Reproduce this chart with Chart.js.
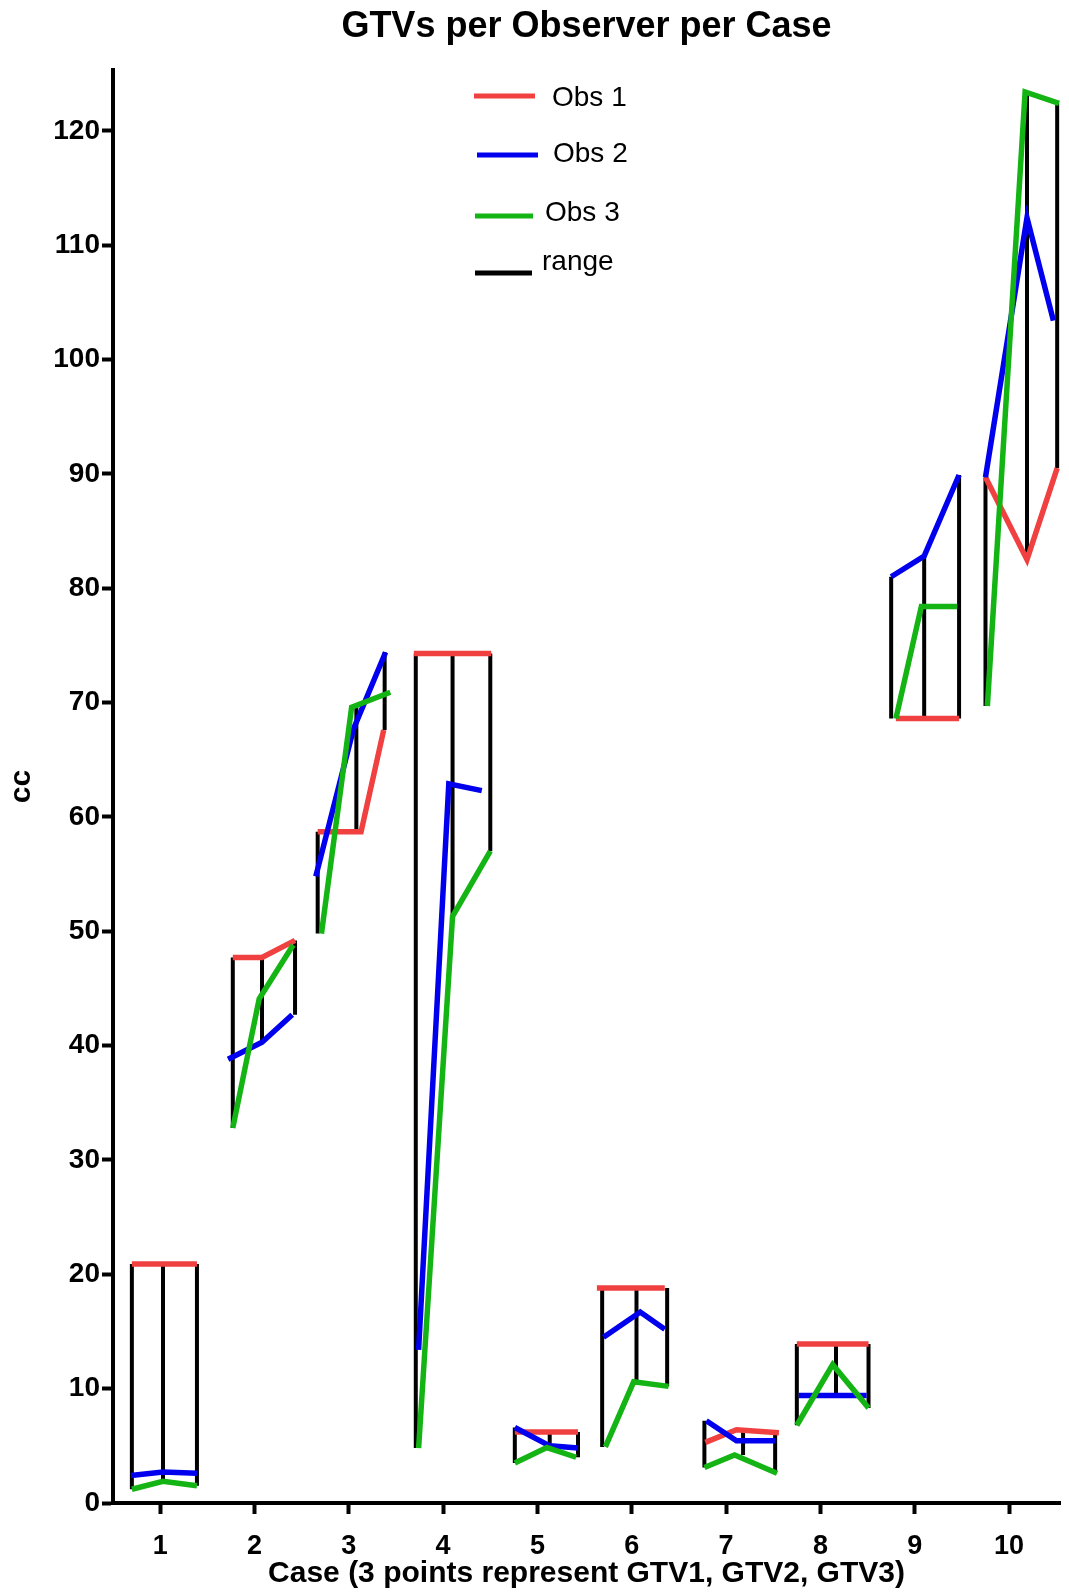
<!DOCTYPE html>
<html>
<head>
<meta charset="utf-8">
<title>GTVs per Observer per Case</title>
<script src="https://cdn.jsdelivr.net/npm/chart.js"></script>
<style>
  html, body { margin: 0; padding: 0; background: #fff; }
  canvas { display: block; }
</style>
</head>
<body>
<canvas id="chart" width="1069" height="1596"></canvas>
<script>
// cases on the x axis and their tick labels
const CASES = [1, 2, 3, 4, 5, 6, 7, 8, 9, 10];
const CASE_LABELS = ["1", "2", "3", "4", "5", "6", "7", "8", "9", "10"];
const Y_TICKS = [0, 10, 20, 30, 40, 50, 60, 70, 80, 90, 100, 110, 120];

// x of GTV1, GTV2, GTV3 inside each case (where the range lines stand)
const RANGE_X = [
    [0.70, 1.03, 1.39],
    [1.77, 2.08, 2.43],
    [2.67, 3.08, 3.38],
    [3.71, 4.10, 4.50],
    [4.76, 5.13, 5.43],
    [5.686, 6.05, 6.375],
    [6.77, 7.18, 7.52],
    [7.75, 8.165, 8.51],
    [8.75, 9.10, 9.47],
    [9.75, 10.19, 10.51],
];

// Obs 1 - volumes (cc), [GTV1, GTV2, GTV3] per case
const OBS1_X = [
    [0.70, 1.03, 1.39],
    [1.77, 2.08, 2.43],
    [2.67, 3.13, 3.37],
    [3.69, 4.10, 4.51],
    [4.76, 5.13, 5.43],
    [5.63, 6.05, 6.35],
    [6.78, 7.11, 7.56],
    [7.75, 8.165, 8.51],
    [8.80, 9.10, 9.47],
    [9.75, 10.19, 10.51],
];
const OBS1 = [
    [20.9, 20.9, 20.9],
    [47.7, 47.7, 49.2],
    [58.7, 58.7, 67.6],
    [74.3, 74.3, 74.3],
    [6.2, 6.2, 6.2],
    [18.8, 18.8, 18.8],
    [5.3, 6.4, 6.15],
    [13.9, 13.9, 13.9],
    [68.6, 68.6, 68.6],
    [89.7, 82.5, 90.5],
];

// Obs 2
const OBS2_X = [
    [0.69, 1.03, 1.39],
    [1.72, 2.08, 2.40],
    [2.65, 3.05, 3.39],
    [3.74, 4.06, 4.41],
    [4.76, 5.13, 5.43],
    [5.70, 6.09, 6.35],
    [6.79, 7.11, 7.52],
    [7.77, 8.165, 8.49],
    [8.75, 9.10, 9.47],
    [9.75, 10.19, 10.47],
];
const OBS2 = [
    [2.4, 2.7, 2.6],
    [38.8, 40.3, 42.7],
    [54.8, 67.7, 74.4],
    [13.4, 62.9, 62.3],
    [6.6, 5.0, 4.8],
    [14.5, 16.7, 15.2],
    [7.2, 5.45, 5.45],
    [9.4, 9.4, 9.4],
    [81.0, 82.8, 89.9],
    [89.7, 112.4, 103.4],
];

// Obs 3
const OBS3_X = [
    [0.70, 1.03, 1.39],
    [1.77, 2.05, 2.41],
    [2.71, 3.03, 3.44],
    [3.74, 4.10, 4.50],
    [4.76, 5.10, 5.41],
    [5.72, 6.02, 6.39],
    [6.77, 7.09, 7.54],
    [7.75, 8.13, 8.51],
    [8.80, 9.07, 9.45],
    [9.77, 10.17, 10.53],
];
const OBS3 = [
    [1.2, 1.9, 1.5],
    [32.8, 44.1, 48.8],
    [49.8, 69.6, 70.9],
    [4.8, 51.3, 57.0],
    [3.5, 4.85, 4.0],
    [4.9, 10.6, 10.2],
    [3.1, 4.2, 2.6],
    [6.8, 12.1, 8.3],
    [68.6, 78.4, 78.4],
    [69.7, 123.4, 122.4],
];

const COLORS = {
    obs1: "#f04040",
    obs2: "#0000ee",
    obs3: "#14b414",
    range: "#000000",
};
const FONT = "'Liberation Sans', Arial, Helvetica, sans-serif";

Chart.defaults.font.family = FONT;
Chart.defaults.color = "#000";

// one polyline per case, broken by a null point between cases
function seriesPoints(xs, ys) {
    const pts = [];
    CASES.forEach((c, i) => {
        xs[i].forEach((x, j) => pts.push({ x: x, y: ys[i][j] }));
        pts.push({ x: c + 0.55, y: null });
    });
    return pts;
}

// vertical min..max line at each GTV
function rangePoints() {
    const pts = [];
    CASES.forEach((c, i) => {
        RANGE_X[i].forEach((x, j) => {
            const vals = [OBS1[i][j], OBS2[i][j], OBS3[i][j]];
            pts.push({ x: x, y: Math.min(...vals) });
            pts.push({ x: x, y: Math.max(...vals) });
            pts.push({ x: x, y: null });
        });
    });
    return pts;
}

// legend rows drawn inside the plot, as in the original figure
const LEGEND_ROWS = [
    { x0: 474, x1: 535, y: 96, tx: 552, ty: 106 },
    { x0: 477, x1: 538, y: 155, tx: 553, ty: 162 },
    { x0: 475, x1: 533, y: 216, tx: 545, ty: 221 },
    { x0: 475, x1: 532, y: 273, tx: 542, ty: 270 },
];

const legendPlugin = {
    id: "insideLegend",
    afterDraw(chart) {
        const ctx = chart.ctx;
        ctx.save();
        chart.data.datasets.forEach((ds, i) => {
            const row = LEGEND_ROWS[i];
            ctx.strokeStyle = ds.borderColor;
            ctx.lineWidth = 5;
            ctx.lineCap = "butt";
            ctx.beginPath();
            ctx.moveTo(row.x0, row.y);
            ctx.lineTo(row.x1, row.y);
            ctx.stroke();
            ctx.fillStyle = "#000";
            ctx.font = "28px " + FONT;
            ctx.textBaseline = "alphabetic";
            ctx.textAlign = "left";
            ctx.fillText(ds.label, row.tx, row.ty);
        });
        ctx.restore();
    },
};

function lineSet(label, xs, ys, color, order) {
    return {
        label: label,
        data: seriesPoints(xs, ys),
        borderColor: color,
        backgroundColor: color,
        borderWidth: 5.5,
        pointRadius: 0,
        tension: 0,
        spanGaps: false,
        order: order,
    };
}

const axisGrid = {
    drawOnChartArea: false,
    drawTicks: true,
    tickLength: 11,
    tickWidth: 4,
    tickColor: "#000",
};

new Chart(document.getElementById("chart"), {
    type: "line",
    data: {
        datasets: [
            lineSet("Obs 1", OBS1_X, OBS1, COLORS.obs1, 3),
            lineSet("Obs 2", OBS2_X, OBS2, COLORS.obs2, 2),
            lineSet("Obs 3", OBS3_X, OBS3, COLORS.obs3, 1),
            {
                label: "range",
                data: rangePoints(),
                borderColor: COLORS.range,
                backgroundColor: COLORS.range,
                borderWidth: 4,
                pointRadius: 0,
                tension: 0,
                spanGaps: false,
                order: 4,
            },
        ],
    },
    options: {
        responsive: false,
        animation: false,
        events: [],
        layout: { padding: { left: 0, right: 9, top: 0, bottom: 0 } },
        plugins: {
            legend: { display: false },
            tooltip: { enabled: false },
            title: {
                display: true,
                text: "GTVs per Observer per Case",
                fullSize: false,
                color: "#000",
                font: { size: 36, weight: "bold" },
                padding: { top: 5, bottom: 22 },
            },
        },
        scales: {
            x: {
                type: "linear",
                min: 0.5,
                max: 10.54,
                afterBuildTicks: (s) => {
                    s.ticks = CASES.map((v) => ({ value: v }));
                },
                afterFit: (s) => {
                    s.height = 93;
                },
                grid: axisGrid,
                border: { display: true, color: "#000", width: 4 },
                ticks: {
                    autoSkip: false,
                    maxRotation: 0,
                    padding: 16,
                    color: "#000",
                    font: { size: 27, weight: "bold" },
                    callback: (v) => CASE_LABELS[CASES.indexOf(v)],
                },
                title: {
                    display: true,
                    text: "Case (3 points represent GTV1, GTV2, GTV3)",
                    color: "#000",
                    font: { size: 30, weight: "bold" },
                    padding: { top: 0, bottom: 4 },
                },
            },
            y: {
                type: "linear",
                min: 0,
                max: 125.3,
                afterBuildTicks: (s) => {
                    s.ticks = Y_TICKS.map((v) => ({ value: v }));
                },
                afterFit: (s) => {
                    s.width = 113;
                },
                grid: axisGrid,
                border: { display: true, color: "#000", width: 4 },
                ticks: {
                    padding: 2,
                    color: "#000",
                    font: { size: 28, weight: "bold" },
                },
                title: {
                    display: true,
                    text: "cc",
                    color: "#000",
                    font: { size: 30, weight: "bold" },
                    padding: { top: 4, bottom: 0 },
                },
            },
        },
    },
    plugins: [legendPlugin],
});
</script>
</body>
</html>
